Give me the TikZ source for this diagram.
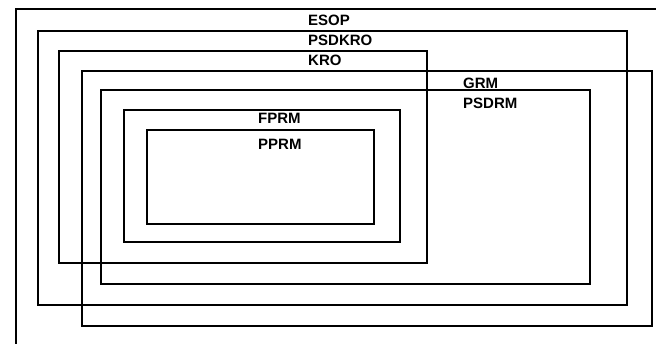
\documentclass[tikz,border=0pt]{standalone}
\usepackage{fontspec}
\setmainfont{Liberation Sans}
\begin{document}
\begin{tikzpicture}[x=1pt,y=-1pt,
  box/.style={draw=black,line width=2.2pt},
  lbl/.style={anchor=base west,inner sep=0pt,font=\fontsize{15}{15}\selectfont\bfseries}]
\useasboundingbox (0,0) rectangle (656,343);
\fill[white] (0,0) rectangle (656,343);
\clip (0,0) rectangle (656,343);
% ESOP (runs past the right and bottom edges)
\draw[box] (16,9) rectangle (700,400);
% PSDKRO
\draw[box] (38,31) rectangle (627,305);
% KRO
\draw[box] (59,51) rectangle (427,263);
% GRM
\draw[box] (82,71) rectangle (652,326);
% PSDRM
\draw[box] (101,90) rectangle (590,284);
% FPRM
\draw[box] (124,110) rectangle (400,242);
% PPRM
\draw[box] (147,130) rectangle (374,224);
\node[lbl] (esop) at (308,25) {ESOP};
\node[lbl] (psdkro) at (308,45) {PSDKRO};
\node[lbl] (kro) at (308,65) {KRO};
\node[lbl] (grm) at (463,88.5) {GRM};
\node[lbl] (psdrm) at (463,108.5) {PSDRM};
\node[lbl] (fprm) at (258,123) {FPRM};
\node[lbl] (pprm) at (258,149) {PPRM};
\end{tikzpicture}
\end{document}
